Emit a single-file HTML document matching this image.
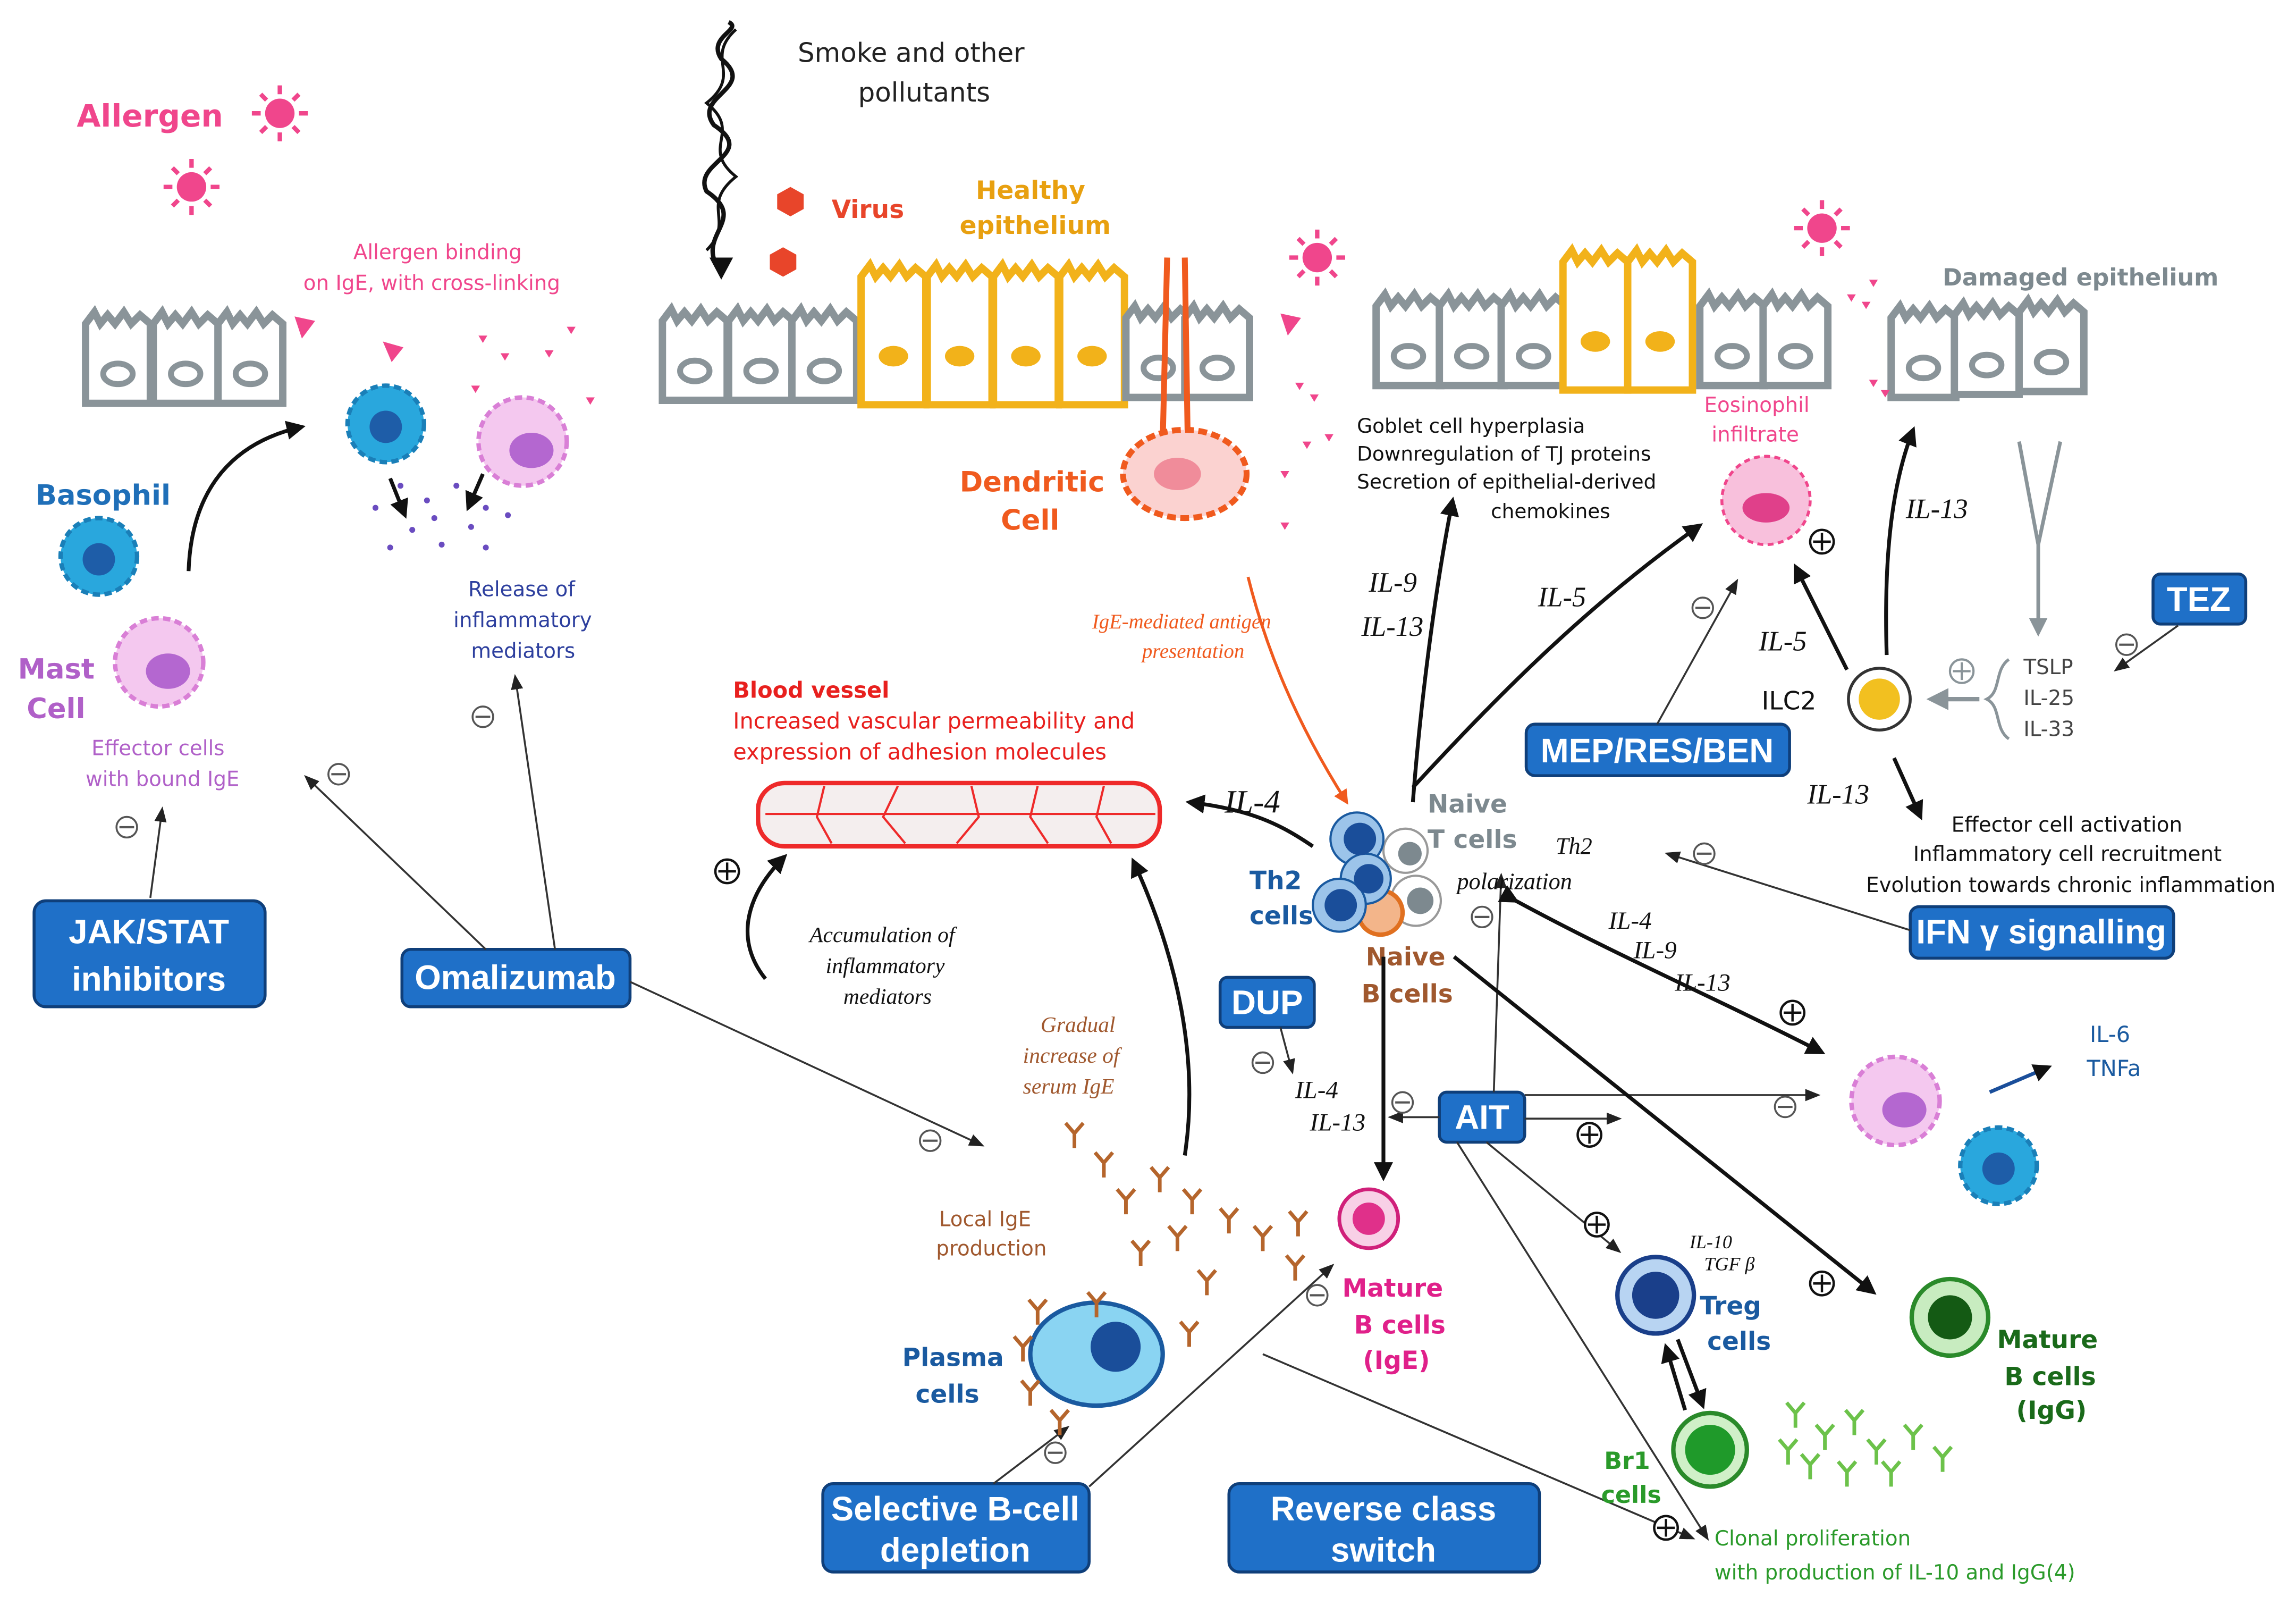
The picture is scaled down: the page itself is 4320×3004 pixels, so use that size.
<!DOCTYPE html>
<html><head><meta charset="utf-8"><style>
html,body{margin:0;padding:0;background:#fff}
svg{display:block}
text{font-family:"DejaVu Sans","Liberation Sans",sans-serif}
.hw{font-family:"Liberation Serif",serif;font-style:italic}
.bx{fill:#1f70c8;stroke:#0f3f7a;stroke-width:2}
.bt{fill:#fff;font-weight:bold;font-family:"Liberation Sans",sans-serif;font-size:23px}
.ar{stroke:#111;stroke-width:2.6;fill:none}
.th{stroke:#333;stroke-width:1.3;fill:none}
</style></head><body>
<svg width="4320" height="3004" viewBox="0 0 1560 1085" xmlns="http://www.w3.org/2000/svg">
<defs>
<marker id="ah" viewBox="0 0 10 10" refX="8" refY="5" markerWidth="5" markerHeight="5" orient="auto"><path d="M0,0L10,5L0,10z" fill="#111"/></marker>
<marker id="as" viewBox="0 0 10 10" refX="8" refY="5" markerWidth="8" markerHeight="8" orient="auto"><path d="M0,1L10,5L0,9z" fill="#222"/></marker>
<marker id="ao" viewBox="0 0 10 10" refX="8" refY="5" markerWidth="5" markerHeight="5" orient="auto"><path d="M0,0L10,5L0,10z" fill="#f05a1e"/></marker>
<marker id="ag" viewBox="0 0 10 10" refX="8" refY="5" markerWidth="5" markerHeight="5" orient="auto"><path d="M0,0L10,5L0,10z" fill="#8a9499"/></marker>
<g id="gc"><path d="M0,62 L0,8 L6,0 L10,8 L15,2 L20,8 L26,0 L31,8 L37,2 L44,8 L44,62 Z" fill="#fff" stroke="#8a9499" stroke-width="5"/><ellipse cx="22" cy="42" rx="10" ry="7" fill="none" stroke="#8a9499" stroke-width="4"/></g>
<g id="yc"><path d="M0,95 L0,8 L6,0 L10,8 L15,2 L20,8 L26,0 L31,8 L37,2 L44,8 L44,95 Z" fill="#fff" stroke="#f2b21a" stroke-width="5"/><ellipse cx="22" cy="62" rx="10" ry="7" fill="#f2b21a"/></g>
<g id="sun"><circle r="10" fill="#f0468c"/><g stroke="#f0468c" stroke-width="3"><path d="M0,-19V-13M0,19V13M-19,0H-13M19,0H13M-13,-13L-9,-9M13,13L9,9M-13,13L-9,9M13,-13L9,-9"/></g></g>
<g id="ab"><path d="M0,10V0M0,0L-6,-7M0,0L6,-7" stroke="#b5652c" stroke-width="2.5" fill="none"/></g>
<g id="abg"><path d="M0,10V0M0,0L-6,-7M0,0L6,-7" stroke="#6cc24a" stroke-width="2.5" fill="none"/></g>
<g id="minus"><circle r="7" fill="#fff" stroke="#555" stroke-width="1.3"/><path d="M-5,0H5" stroke="#555" stroke-width="1.5"/></g>
<g id="plus"><circle r="8" fill="#fff" stroke="#111" stroke-width="1.6"/><path d="M-6,0H6M0,-6V6" stroke="#111" stroke-width="1.6"/></g>
<g id="pinkcell"><circle r="30" fill="#f4c8ef" stroke="#d97fd6" stroke-width="3" stroke-dasharray="5 3"/><ellipse cx="6" cy="6" rx="15" ry="12" fill="#b467d0"/></g>
<g id="bluecell"><circle r="26" fill="#29a7dd" stroke="#1a7fb8" stroke-width="3" stroke-dasharray="5 3"/><circle cx="0" cy="2" r="11" fill="#1e5da8"/></g>
</defs>
<rect width="1560" height="1085" fill="#fff"/>

<text x="52" y="86" font-size="21" font-weight="bold" fill="#f0468c">Allergen</text>
<use href="#sun" x="190" y="77"/><use href="#sun" x="130" y="127"/>
<use href="#sun" x="895" y="175"/><use href="#sun" x="1238" y="155"/>

<path d="M490,185 C470,160 510,150 480,130 C470,110 515,105 485,85 C470,65 515,60 490,40 C480,25 505,20 495,15" stroke="#111" stroke-width="3" fill="none"/>
<path d="M480,170 C500,150 475,140 500,120 C475,100 505,90 480,70 C505,50 478,40 500,20" stroke="#111" stroke-width="2" fill="none"/>
<path d="M482,175 L490,190 L498,175Z" fill="#111"/>
<text x="542" y="42" font-size="18" fill="#222">Smoke and other</text>
<text x="583" y="69" font-size="18" fill="#222">pollutants</text>
<polygon points="537,127 546,132 546,142 537,147 528,142 528,132" fill="#e8452a"/>
<polygon points="532,168 541,173 541,183 532,188 523,183 523,173" fill="#e8452a"/>
<text x="565" y="148" font-size="17" font-weight="bold" fill="#e8452a">Virus</text>
<text x="663" y="135" font-size="17" font-weight="bold" fill="#e8a010">Healthy</text>
<text x="652" y="159" font-size="17" font-weight="bold" fill="#e8a010">epithelium</text>

<use href="#gc" x="58" y="212"/><use href="#gc" x="104" y="212"/><use href="#gc" x="148" y="212"/>
<use href="#gc" x="450" y="210"/><use href="#gc" x="495" y="210"/><use href="#gc" x="538" y="210"/>
<use href="#yc" x="585" y="180"/><use href="#yc" x="630" y="180"/><use href="#yc" x="675" y="180"/><use href="#yc" x="720" y="180"/>
<use href="#gc" x="765" y="208"/><use href="#gc" x="805" y="208"/>
<use href="#gc" x="935" y="200"/><use href="#gc" x="978" y="200"/><use href="#gc" x="1020" y="200"/>
<use href="#yc" x="1062" y="170"/><use href="#yc" x="1106" y="170"/>
<use href="#gc" x="1155" y="200"/><use href="#gc" x="1198" y="200"/>
<use href="#gc" x="1285" y="208"/><use href="#gc" x="1328" y="206"/><use href="#gc" x="1372" y="204"/>
<text x="1320" y="194" font-size="16" font-weight="bold" fill="#7d898f">Damaged epithelium</text>

<path d="M793,175 L790,300 M805,175 L807,300" stroke="#f05a1e" stroke-width="4"/>
<ellipse cx="805" cy="322" rx="42" ry="30" fill="#fbd2d0" stroke="#f05a1e" stroke-width="4" stroke-dasharray="6 3"/>
<ellipse cx="800" cy="322" rx="16" ry="11" fill="#f08c9a"/>
<text x="652" y="334" font-size="19" font-weight="bold" fill="#f05a1e">Dendritic</text>
<text x="680" y="360" font-size="19" font-weight="bold" fill="#f05a1e">Cell</text>

<g fill="#f0468c"><path d="M200,215l14,3l-9,12z M260,232l14,4l-8,10z M325,228l6,0l-3,5z M340,240l6,0l-3,5z M370,238l6,0l-3,5z M385,222l6,0l-3,5z M320,262l6,0l-3,5z M398,270l6,0l-3,5z M870,213l14,3l-9,12z M880,260l6,0l-3,5z M890,268l6,0l-3,5z M885,300l6,0l-3,5z M900,295l6,0l-3,5z M870,320l6,0l-3,5z M870,355l6,0l-3,5z M1255,200l6,0l-3,5z M1265,205l6,0l-3,5z M1270,190l6,0l-3,5z M1270,258l6,0l-3,5z M1278,265l6,0l-3,5z"/></g>

<text x="922" y="294" font-size="13.5" fill="#111">Goblet cell hyperplasia</text>
<text x="922" y="313" font-size="13.5" fill="#111">Downregulation of TJ proteins</text>
<text x="922" y="332" font-size="13.5" fill="#111">Secretion of epithelial-derived</text>
<text x="1013" y="352" font-size="13.5" fill="#111">chemokines</text>

<text x="1158" y="280" font-size="14" fill="#f0468c">Eosinophil</text>
<text x="1163" y="300" font-size="14" fill="#f0468c">infiltrate</text>
<circle cx="1200" cy="340" r="30" fill="#f8c0dc" stroke="#f0468c" stroke-width="2" stroke-dasharray="4 3"/>
<ellipse cx="1200" cy="345" rx="16" ry="10" fill="#e0408a"/>
<use href="#plus" x="1238" y="368"/>

<text x="24" y="343" font-size="19" font-weight="bold" fill="#1f6fb8">Basophil</text>
<use href="#bluecell" x="67" y="378"/>
<text x="12" y="461" font-size="19" font-weight="bold" fill="#b060c8">Mast</text>
<text x="18" y="488" font-size="19" font-weight="bold" fill="#b060c8">Cell</text>
<use href="#pinkcell" x="108" y="450"/>
<text x="62" y="513" font-size="14" fill="#b060c8">Effector cells</text>
<text x="58" y="534" font-size="14" fill="#b060c8">with bound IgE</text>
<text x="240" y="176" font-size="14" fill="#f0468c">Allergen binding</text>
<text x="206" y="197" font-size="14" fill="#f0468c">on IgE, with cross-linking</text>
<use href="#bluecell" x="262" y="288"/>
<use href="#pinkcell" x="355" y="300"/>
<g fill="#6a4cc0"><circle cx="255" cy="345" r="2"/><circle cx="272" cy="330" r="2"/><circle cx="290" cy="340" r="2"/><circle cx="310" cy="330" r="2"/><circle cx="330" cy="345" r="2"/><circle cx="280" cy="360" r="2"/><circle cx="300" cy="370" r="2"/><circle cx="320" cy="358" r="2"/><circle cx="345" cy="350" r="2"/><circle cx="265" cy="372" r="2"/><circle cx="295" cy="352" r="2"/><circle cx="330" cy="372" r="2"/></g>
<path d="M265,325 L275,350" class="ar" marker-end="url(#ah)"/><path d="M328,322 L318,345" class="ar" marker-end="url(#ah)"/>
<text x="318" y="405" font-size="14" fill="#2d3f9e">Release of</text>
<text x="308" y="426" font-size="14" fill="#2d3f9e">inflammatory</text>
<text x="320" y="447" font-size="14" fill="#2d3f9e">mediators</text>
<path d="M128,388 C130,330 160,300 205,290" class="ar" marker-end="url(#ah)"/>

<rect x="23" y="612" width="157" height="72" rx="8" class="bx"/><text x="101" y="641" text-anchor="middle" class="bt">JAK/STAT</text><text x="101" y="673" text-anchor="middle" class="bt">inhibitors</text>
<rect x="273" y="645" width="155" height="39" rx="6" class="bx"/><text x="350" y="672" text-anchor="middle" class="bt">Omalizumab</text>
<rect x="829" y="664" width="64" height="34" rx="5" class="bx"/><text x="861" y="689" text-anchor="middle" class="bt">DUP</text>
<rect x="978" y="742" width="58" height="34" rx="5" class="bx"/><text x="1007" y="767" text-anchor="middle" class="bt">AIT</text>
<rect x="1037" y="492" width="179" height="35" rx="6" class="bx"/><text x="1126" y="518" text-anchor="middle" class="bt">MEP/RES/BEN</text>
<rect x="1463" y="390" width="63" height="34" rx="5" class="bx"/><text x="1494" y="415" text-anchor="middle" class="bt">TEZ</text>
<rect x="1298" y="616" width="179" height="35" rx="6" class="bx"/><text x="1387" y="641" text-anchor="middle" class="bt">IFN γ signalling</text>
<rect x="559" y="1008" width="181" height="60" rx="7" class="bx"/><text x="649" y="1033" text-anchor="middle" class="bt">Selective B-cell</text><text x="649" y="1061" text-anchor="middle" class="bt">depletion</text>
<rect x="835" y="1008" width="211" height="60" rx="7" class="bx"/><text x="940" y="1033" text-anchor="middle" class="bt">Reverse class</text><text x="940" y="1061" text-anchor="middle" class="bt">switch</text>

<path d="M102,610 L110,550" class="th" marker-end="url(#as)"/><use href="#minus" x="86" y="562"/>
<path d="M330,645 L208,528" class="th" marker-end="url(#as)"/><use href="#minus" x="230" y="526"/>
<path d="M377,645 L350,460" class="th" marker-end="url(#as)"/><use href="#minus" x="328" y="487"/>
<path d="M428,667 L667,778" class="th" marker-end="url(#as)"/><use href="#minus" x="632" y="775"/>
<path d="M870,698 L878,728" class="th" marker-end="url(#as)"/><use href="#minus" x="858" y="722"/>
<path d="M978,759 L945,759" class="th" marker-end="url(#as)"/><use href="#minus" x="953" y="749"/>
<path d="M1015,742 L1020,595" class="th" marker-end="url(#as)"/><use href="#minus" x="1007" y="623"/>
<path d="M1036,744 L1235,744" class="th" marker-end="url(#as)"/><use href="#minus" x="1213" y="752"/>
<path d="M1036,760 L1100,760" class="th" marker-end="url(#as)"/><use href="#plus" x="1080" y="771"/>
<path d="M1010,776 L1100,850" class="th" marker-end="url(#as)"/><use href="#plus" x="1085" y="832"/>
<path d="M990,776 L1160,1045" class="th" marker-end="url(#as)"/>
<path d="M858,920 L1150,1045" class="th" marker-end="url(#as)"/><use href="#plus" x="1132" y="1038"/>
<path d="M675,1008 L725,970" class="th" marker-end="url(#as)"/><use href="#minus" x="717" y="987"/>
<path d="M740,1010 L905,860" class="th" marker-end="url(#as)"/><use href="#minus" x="895" y="880"/>
<path d="M1126,492 L1180,395" class="th" marker-end="url(#as)"/><use href="#minus" x="1157" y="413"/>
<path d="M1480,425 L1438,455" class="th" marker-end="url(#as)"/><use href="#minus" x="1445" y="438"/>
<path d="M1298,632 L1133,580" class="th" marker-end="url(#as)"/><use href="#minus" x="1158" y="580"/>

<text x="498" y="474" font-size="15" font-weight="bold" fill="#e8201e">Blood vessel</text>
<text x="498" y="495" font-size="15" fill="#e8201e">Increased vascular permeability and</text>
<text x="498" y="516" font-size="15" fill="#e8201e">expression of adhesion molecules</text>
<rect x="515" y="532" width="273" height="43" rx="18" fill="#f4eeee" stroke="#ee2a2a" stroke-width="3"/>
<path d="M560,534 L555,555 L565,573 M610,534 L600,555 L615,573 M660,534 L665,555 L650,573 M705,534 L700,555 L712,573 M750,534 L745,555 L755,573 M520,553 H785" stroke="#ee2a2a" stroke-width="1.5" fill="none"/>
<text x="742" y="427" font-size="14" class="hw" fill="#f05a1e">IgE-mediated antigen</text>
<text x="776" y="447" font-size="14" class="hw" fill="#f05a1e">presentation</text>
<path d="M848,392 C860,440 880,490 915,545" stroke="#f05a1e" stroke-width="2" fill="none" marker-end="url(#ao)"/>

<circle cx="962" cy="612" r="17" fill="#fff" stroke="#999" stroke-width="1.5"/><circle cx="965" cy="612" r="9" fill="#7d898f"/>
<circle cx="955" cy="578" r="15" fill="#fff" stroke="#999" stroke-width="1.5"/><circle cx="958" cy="580" r="8" fill="#7d898f"/>
<circle cx="938" cy="620" r="15" fill="#f3b58a" stroke="#e07020" stroke-width="3"/>
<g fill="#9cc4ea" stroke="#1a5aa0" stroke-width="1.5"><circle cx="922" cy="570" r="18"/><circle cx="928" cy="597" r="17"/><circle cx="910" cy="615" r="18"/></g>
<g fill="#1a4e9a"><circle cx="924" cy="570" r="11"/><circle cx="930" cy="597" r="10"/><circle cx="911" cy="615" r="11"/></g>
<text x="849" y="604" font-size="17" font-weight="bold" fill="#1a5aa0">Th2</text>
<text x="849" y="628" font-size="17" font-weight="bold" fill="#1a5aa0">cells</text>
<text x="970" y="552" font-size="17" font-weight="bold" fill="#7d898f">Naive</text>
<text x="970" y="576" font-size="17" font-weight="bold" fill="#7d898f">T cells</text>
<text x="928" y="656" font-size="17" font-weight="bold" fill="#a0582e">Naive</text>
<text x="925" y="681" font-size="17" font-weight="bold" fill="#a0582e">B cells</text>
<text x="1057" y="580" font-size="16" class="hw" fill="#111">Th2</text>
<text x="990" y="604" font-size="16" class="hw" fill="#111">polarization</text>

<path d="M892,575 C870,560 850,550 808,545" class="ar" marker-end="url(#ah)"/>
<text x="832" y="552" font-size="22" class="hw" fill="#111">IL-4</text>
<path d="M960,545 C965,480 975,400 987,340" class="ar" marker-end="url(#ah)"/>
<text x="930" y="402" font-size="19" class="hw" fill="#111">IL-9</text>
<text x="925" y="432" font-size="19" class="hw" fill="#111">IL-13</text>
<path d="M960,535 C1020,470 1080,410 1155,357" class="ar" marker-end="url(#ah)"/>
<text x="1045" y="412" font-size="19" class="hw" fill="#111">IL-5</text>
<path d="M1255,455 L1220,385" class="ar" marker-end="url(#ah)"/>
<text x="1195" y="442" font-size="19" class="hw" fill="#111">IL-5</text>
<path d="M1282,445 C1280,380 1285,330 1300,292" class="ar" marker-end="url(#ah)"/>
<text x="1295" y="352" font-size="19" class="hw" fill="#111">IL-13</text>
<path d="M1287,515 L1305,555" class="ar" marker-end="url(#ah)"/>
<text x="1228" y="546" font-size="19" class="hw" fill="#111">IL-13</text>
<path d="M940,650 L940,800" class="ar" marker-end="url(#ah)"/>
<path d="M988,650 L1273,878" class="ar" marker-end="url(#ah)"/><use href="#plus" x="1238" y="872"/>
<path d="M1030,612 C1100,650 1170,680 1238,715" class="ar" marker-end="url(#ah)" marker-start="url(#ah)"/><use href="#plus" x="1218" y="688"/>
<text x="1093" y="631" font-size="17" class="hw" fill="#111">IL-4</text>
<text x="1110" y="651" font-size="17" class="hw" fill="#111">IL-9</text>
<text x="1138" y="673" font-size="17" class="hw" fill="#111">IL-13</text>
<path d="M805,785 C815,720 800,650 770,585" class="ar" marker-end="url(#ah)"/>
<path d="M520,665 C500,640 505,610 533,582" class="ar" marker-end="url(#ah)"/>
<use href="#plus" x="494" y="592"/>
<text x="880" y="746" font-size="17" class="hw" fill="#111">IL-4</text>
<text x="890" y="768" font-size="17" class="hw" fill="#111">IL-13</text>

<text x="1197" y="482" font-size="17" fill="#111">ILC2</text>
<circle cx="1277" cy="475" r="21" fill="#fff" stroke="#333" stroke-width="2"/><circle cx="1277" cy="475" r="14" fill="#f2c020"/>
<path d="M1372,300 L1385,370 L1400,300 M1385,370 L1385,430" stroke="#8a9499" stroke-width="2.5" fill="none" marker-end="url(#ag)"/>
<path d="M1365,448 C1355,455 1360,470 1350,475 C1360,480 1355,495 1365,502" stroke="#8a9499" stroke-width="2" fill="none"/>
<path d="M1345,475 L1312,475" stroke="#8a9499" stroke-width="3" marker-end="url(#ag)"/>
<circle cx="1333" cy="456" r="8" fill="#fff" stroke="#8a9499" stroke-width="1.5"/><path d="M1327,456H1339M1333,450V462" stroke="#8a9499" stroke-width="1.5"/>
<text x="1375" y="458" font-size="14" fill="#444">TSLP</text>
<text x="1375" y="479" font-size="14" fill="#444">IL-25</text>
<text x="1375" y="500" font-size="14" fill="#444">IL-33</text>
<text x="1326" y="565" font-size="14" fill="#111">Effector cell activation</text>
<text x="1300" y="585" font-size="14" fill="#111">Inflammatory cell recruitment</text>
<text x="1268" y="606" font-size="14" fill="#111">Evolution towards chronic inflammation</text>

<text x="550" y="640" font-size="15" class="hw" fill="#111">Accumulation of</text>
<text x="561" y="661" font-size="15" class="hw" fill="#111">inflammatory</text>
<text x="573" y="682" font-size="15" class="hw" fill="#111">mediators</text>
<text x="707" y="701" font-size="15" class="hw" fill="#a0582e">Gradual</text>
<text x="695" y="722" font-size="15" class="hw" fill="#a0582e">increase of</text>
<text x="695" y="743" font-size="15" class="hw" fill="#a0582e">serum IgE</text>
<text x="638" y="833" font-size="14" fill="#a0582e">Local IgE</text>
<text x="636" y="853" font-size="14" fill="#a0582e">production</text>

<use href="#ab" x="730" y="770"/><use href="#ab" x="750" y="790"/><use href="#ab" x="788" y="800"/><use href="#ab" x="765" y="815"/><use href="#ab" x="810" y="815"/><use href="#ab" x="835" y="828"/><use href="#ab" x="800" y="840"/><use href="#ab" x="858" y="840"/><use href="#ab" x="882" y="830"/><use href="#ab" x="775" y="850"/><use href="#ab" x="820" y="870"/><use href="#ab" x="808" y="905"/><use href="#ab" x="880" y="860"/>

<ellipse cx="745" cy="920" rx="45" ry="35" fill="#8ad4f2" stroke="#1a5aa0" stroke-width="3"/><circle cx="758" cy="915" r="17" fill="#1a4e9a"/>
<use href="#ab" x="705" y="890"/><use href="#ab" x="695" y="915"/><use href="#ab" x="700" y="945"/><use href="#ab" x="720" y="965"/><use href="#ab" x="745" y="885"/>
<text x="613" y="928" font-size="17" font-weight="bold" fill="#1a5aa0">Plasma</text>
<text x="622" y="953" font-size="17" font-weight="bold" fill="#1a5aa0">cells</text>
<circle cx="930" cy="828" r="20" fill="#f8d0e6" stroke="#d0207a" stroke-width="2.5"/><circle cx="930" cy="828" r="11" fill="#e0308a"/>
<text x="912" y="881" font-size="17" font-weight="bold" fill="#e0208a">Mature</text>
<text x="920" y="906" font-size="17" font-weight="bold" fill="#e0208a">B cells</text>
<text x="926" y="930" font-size="17" font-weight="bold" fill="#e0208a">(IgE)</text>

<use href="#pinkcell" x="1288" y="748"/>
<use href="#bluecell" x="1358" y="792"/>
<path d="M1352,742 L1392,725" stroke="#1a4e9a" stroke-width="2.5" marker-end="url(#ah)"/>
<text x="1420" y="708" font-size="15" fill="#1a5aa0">IL-6</text>
<text x="1418" y="731" font-size="15" fill="#1a5aa0">TNFa</text>
<circle cx="1125" cy="880" r="26" fill="#b8d4f2" stroke="#1a3f8a" stroke-width="3"/><circle cx="1125" cy="880" r="16" fill="#1a3f8a"/>
<text x="1148" y="848" font-size="13" class="hw" fill="#111">IL-10</text>
<text x="1158" y="863" font-size="13" class="hw" fill="#111">TGF β</text>
<text x="1155" y="893" font-size="17" font-weight="bold" fill="#1a5aa0">Treg</text>
<text x="1160" y="917" font-size="17" font-weight="bold" fill="#1a5aa0">cells</text>
<path d="M1140,910 L1157,955" class="ar" marker-end="url(#ah)"/><path d="M1145,958 L1132,915" class="ar" marker-end="url(#ah)"/>
<circle cx="1162" cy="985" r="25" fill="#d0f0c8" stroke="#2a8a2a" stroke-width="3"/><circle cx="1162" cy="985" r="17" fill="#1f9a2a"/>
<text x="1090" y="998" font-size="16" font-weight="bold" fill="#2a9a2a">Br1</text>
<text x="1088" y="1021" font-size="16" font-weight="bold" fill="#2a9a2a">cells</text>
<circle cx="1325" cy="895" r="26" fill="#c8ecc0" stroke="#2a8a2a" stroke-width="3"/><circle cx="1325" cy="895" r="15" fill="#145a14"/>
<text x="1357" y="916" font-size="17" font-weight="bold" fill="#1a6a1a">Mature</text>
<text x="1362" y="941" font-size="17" font-weight="bold" fill="#1a6a1a">B cells</text>
<text x="1370" y="964" font-size="17" font-weight="bold" fill="#1a6a1a">(IgG)</text>
<use href="#abg" x="1220" y="960"/><use href="#abg" x="1240" y="975"/><use href="#abg" x="1260" y="965"/><use href="#abg" x="1275" y="985"/><use href="#abg" x="1300" y="975"/><use href="#abg" x="1230" y="995"/><use href="#abg" x="1255" y="1000"/><use href="#abg" x="1285" y="1000"/><use href="#abg" x="1320" y="990"/><use href="#abg" x="1215" y="985"/>
<text x="1165" y="1050" font-size="14" fill="#2a9a2a">Clonal proliferation</text>
<text x="1165" y="1073" font-size="14" fill="#2a9a2a">with production of IL-10 and IgG(4)</text>
</svg>
</body></html>
